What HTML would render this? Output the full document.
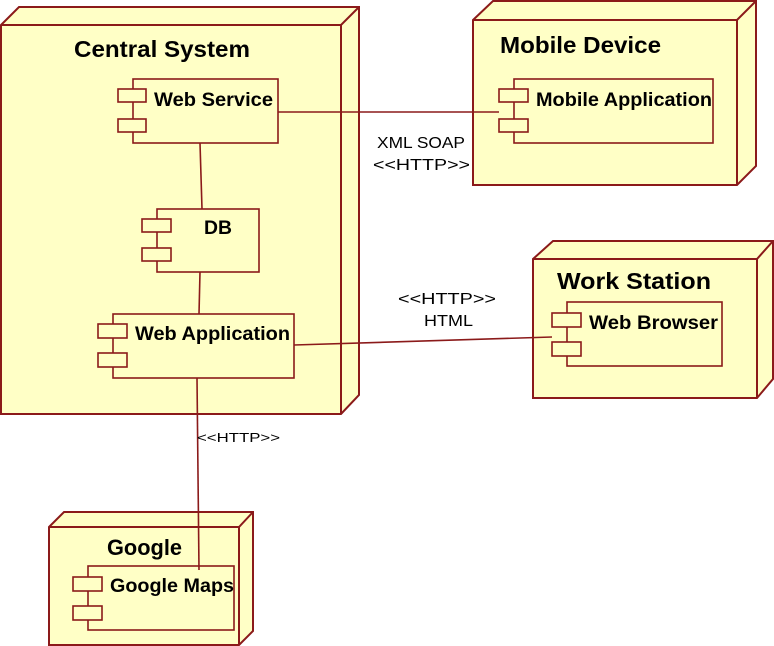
<!DOCTYPE html>
<html><head><style>body{margin:0;background:#fff}svg{display:block}</style></head><body>
<svg width="774" height="646" viewBox="0 0 774 646" xmlns="http://www.w3.org/2000/svg" font-family="Liberation Sans, sans-serif">
<g fill="#ffffc6" stroke="#8b1a1a" stroke-width="2">
<polygon points="1,25 19,7 359,7 359,395 341,414 1,414"/>
<polyline points="1,25 341,25 359,7" fill="none"/><line x1="341" y1="25" x2="341" y2="414"/>
<polygon points="473,20 493,1 756,1 756,166 737,185 473,185"/>
<polyline points="473,20 737,20 756,1" fill="none"/><line x1="737" y1="20" x2="737" y2="185"/>
<polygon points="533,259 553,241 773,241 773,379 757,398 533,398"/>
<polyline points="533,259 757,259 773,241" fill="none"/><line x1="757" y1="259" x2="757" y2="398"/>
<polygon points="49,527 64,512 253,512 253,631 239,645 49,645"/>
<polyline points="49,527 239,527 253,512" fill="none"/><line x1="239" y1="527" x2="239" y2="645"/>
</g>
<g fill="#ffffc6" stroke="#8b1a1a" stroke-width="1.6">
<rect x="133" y="79" width="145" height="64"/><rect x="118" y="89" width="28" height="13"/><rect x="118" y="119" width="28" height="13"/>
<rect x="157" y="209" width="102" height="63"/><rect x="142" y="219" width="29" height="13"/><rect x="142" y="248" width="29" height="13"/>
<rect x="113" y="314" width="181" height="64"/><rect x="98" y="324" width="29" height="14"/><rect x="98" y="353" width="29" height="14"/>
<rect x="514" y="79" width="199" height="64"/><rect x="499" y="89" width="29" height="13"/><rect x="499" y="119" width="29" height="13"/>
<rect x="567" y="302" width="155" height="64"/><rect x="552" y="313" width="29" height="14"/><rect x="552" y="342" width="29" height="14"/>
<rect x="88" y="566" width="146" height="64"/><rect x="73" y="577" width="29" height="14"/><rect x="73" y="606" width="29" height="14"/>
</g>
<g stroke="#8b1a1a" stroke-width="1.6" fill="none">
<line x1="200" y1="143" x2="202" y2="209"/>
<line x1="200" y1="272" x2="199" y2="314"/>
<line x1="197" y1="378" x2="199" y2="570"/>
<line x1="278" y1="112" x2="499" y2="112"/>
<line x1="294" y1="345" x2="552" y2="337"/>
</g>
<g font-weight="bold" fill="#000">
<text x="74" y="57" font-size="23" textLength="176" lengthAdjust="spacingAndGlyphs">Central System</text>
<text x="500" y="53" font-size="23" textLength="161" lengthAdjust="spacingAndGlyphs">Mobile Device</text>
<text x="557" y="289" font-size="23" textLength="154" lengthAdjust="spacingAndGlyphs">Work Station</text>
<text x="107" y="555" font-size="22" textLength="75" lengthAdjust="spacingAndGlyphs">Google</text>
<text x="154" y="106" font-size="19" textLength="119" lengthAdjust="spacingAndGlyphs">Web Service</text>
<text x="204" y="234" font-size="19" textLength="28" lengthAdjust="spacingAndGlyphs">DB</text>
<text x="135" y="340" font-size="19" textLength="155" lengthAdjust="spacingAndGlyphs">Web Application</text>
<text x="536" y="106" font-size="19" textLength="176" lengthAdjust="spacingAndGlyphs">Mobile Application</text>
<text x="589" y="329" font-size="19" textLength="129" lengthAdjust="spacingAndGlyphs">Web Browser</text>
<text x="110" y="592" font-size="19" textLength="124" lengthAdjust="spacingAndGlyphs">Google Maps</text>
</g>
<g fill="#000" font-size="16">
<text x="377" y="148" textLength="88" lengthAdjust="spacingAndGlyphs">XML SOAP</text>
<text x="373" y="170" textLength="97" lengthAdjust="spacingAndGlyphs">&lt;&lt;HTTP&gt;&gt;</text>
<text x="398" y="304" textLength="98" lengthAdjust="spacingAndGlyphs">&lt;&lt;HTTP&gt;&gt;</text>
<text x="424" y="326" textLength="49" lengthAdjust="spacingAndGlyphs">HTML</text>
<text x="197" y="442" font-size="13" textLength="83" lengthAdjust="spacingAndGlyphs">&lt;&lt;HTTP&gt;&gt;</text>
</g>
</svg>
</body></html>
